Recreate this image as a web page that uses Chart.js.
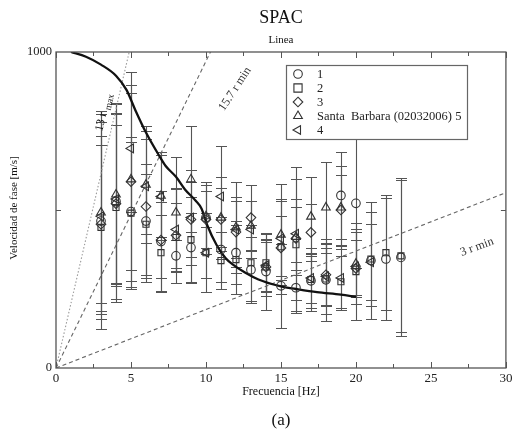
<!DOCTYPE html>
<html>
<head>
<meta charset="utf-8">
<script src="https://cdn.jsdelivr.net/npm/chart.js@4.4.0/dist/chart.umd.min.js"></script>
<style>
html, body { margin: 0; padding: 0; background: #fff; }
#wrap { position: relative; width: 512px; height: 433px; }
</style>
</head>
<body>
<div id="wrap"><canvas id="spacChart" width="512" height="433"></canvas></div>
<script>
// frequencies of the SPAC points [Hz]
const freqs = [3, 4, 5, 6, 7, 8, 9, 10, 11, 12, 13, 14, 15, 16, 17, 18, 19, 20, 21, 22, 23];

// phase velocity [m/s] for each station, and the +/- error bars
const vel1 = [465, 527, 495, 465, 400, 355, 381, 476, 375, 365, 311, 305, 260, 254, 276, 279, 546, 521, 340, 345, 350];
const err1 = [340, 310, 220, 180, 160, 50, 110, 114, 102, 100, 105, 121, 133, 80, 86, 130, 137, 206, 184, 193, 250];
const vel2 = [445, 508, 490, 455, 365, 413, 406, 365, 340, 343, 333, 333, 384, 390, 280, 282, 273, 305, 345, 365, 355];
const err2 = [290, 300, 240, 160, 120, 108, 136, 124, 90, 108, 120, 92, 150, 209, 100, 110, 83, 153, 150, 181, 240];
const vel3 = [455, 520, 590, 511, 405, 420, 470, 470, 470, 430, 476, 320, 380, 410, 429, 295, 500, 315, null, null, null];
const err3 = [250, 250, 280, 240, 120, 150, 120, 90, 100, 110, 102, 80, 100, 100, 90, 100, 110, 90, null, null, null];
const vel5 = [492, 549, 597, 580, 545, 492, 597, 480, 476, 445, 450, 318, 422, 415, 479, 508, 508, 330, null, null, null];
const err5 = [320, 290, 340, 185, 140, 175, 168, 100, 130, 145, 80, 90, 159, 120, 124, 143, 130, 100, null, null, null];
const vel4 = [480, 535, 695, 575, 543, 438, 476, 365, 543, 438, 438, 325, 410, 425, 285, 290, 285, 321, 335, null, null];
const err4 = [300, 270, 200, 150, 130, 130, 150, 80, 159, 90, 90, 80, 120, 210, 80, 90, 100, 120, 120, null, null];

// dispersion curve (solid line)
const curveF = [1, 2, 3, 4, 4.7, 5.3, 6, 6.9, 7.3, 8, 8.6, 9.3, 9.7, 10.1, 10.7, 11.3, 11.8, 12.6, 13.5, 15, 16, 17.4, 19, 20];
const curveV = [1000, 985, 960, 925, 880, 815, 745, 670, 640, 605, 565, 530, 505, 450, 390, 348, 327, 302, 280, 258, 250, 240, 232, 225];

// resolution limit lines: end points where they leave the frame
const limitLabels = ['13 r max', '15.7 r min', '3 r min'];
const limitEndF = [4.88, 10.3, 30];
const limitEndV = [1000, 1000, 555];

const seriesNames = ['1', '2', '3', 'Santa  Barbara (02032006) 5', '4'];

const SERIF = '"Liberation Serif", "DejaVu Serif", serif';

function pts(xs, ys) {
    const out = [];
    for (let i = 0; i < xs.length; i++) {
        if (ys[i] !== null) out.push({ x: xs[i], y: ys[i] });
    }
    return out;
}

// marker styles, order: 1, 2, 3, Santa Barbara 5, 4
const markers = [
    { style: 'circle', rot: 0, r: 4.3 },
    { style: 'rect', rot: 0, r: 4.3 },
    { style: 'rectRot', rot: 0, r: 4.8 },
    { style: 'triangle', rot: 0, r: 5 },
    { style: 'triangle', rot: 270, r: 5 }
];
const allVel = [vel1, vel2, vel3, vel5, vel4];
const allErr = [err1, err2, err3, err5, err4];

const datasets = [];
for (let s = 0; s < 5; s++) {
    datasets.push({
        label: seriesNames[s],
        data: pts(freqs, allVel[s]),
        errors: allErr[s].filter(e => e !== null),
        showLine: false,
        pointStyle: markers[s].style,
        rotation: markers[s].rot,
        pointRadius: markers[s].r,
        borderColor: '#333',
        borderWidth: 1.1,
        backgroundColor: 'rgba(0,0,0,0)'
    });
}
datasets.push({
    type: 'line',
    label: 'curve',
    data: pts(curveF, curveV),
    borderColor: '#111',
    borderWidth: 2.3,
    pointRadius: 0,
    cubicInterpolationMode: 'monotone'
});
const lineStyles = [
    { color: '#9a9a9a', dash: [1.5, 2] },
    { color: '#666', dash: [4, 3] },
    { color: '#666', dash: [4, 3] }
];
for (let i = 0; i < 3; i++) {
    datasets.push({
        type: 'line',
        label: limitLabels[i],
        data: [{ x: 0, y: 0 }, { x: limitEndF[i], y: limitEndV[i] }],
        borderColor: lineStyles[i].color,
        borderDash: lineStyles[i].dash,
        borderWidth: 1.1,
        pointRadius: 0
    });
}

function drawMarker(ctx, m, x, y) {
    const r = m.r;
    ctx.beginPath();
    if (m.style === 'circle') {
        ctx.arc(x, y, r, 0, Math.PI * 2);
    } else if (m.style === 'rect') {
        const h = r * 0.95;
        ctx.rect(x - h, y - h, 2 * h, 2 * h);
    } else if (m.style === 'rectRot') {
        ctx.moveTo(x, y - r); ctx.lineTo(x + r, y); ctx.lineTo(x, y + r); ctx.lineTo(x - r, y); ctx.closePath();
    } else if (m.rot === 0) {
        ctx.moveTo(x, y - r); ctx.lineTo(x + r * 0.87, y + r * 0.5); ctx.lineTo(x - r * 0.87, y + r * 0.5); ctx.closePath();
    } else {
        ctx.moveTo(x - r, y); ctx.lineTo(x + r * 0.5, y - r * 0.87); ctx.lineTo(x + r * 0.5, y + r * 0.87); ctx.closePath();
    }
    ctx.stroke();
}

const spacPlugin = {
    id: 'spac',
    beforeDatasetsDraw(chart) {
        const ctx = chart.ctx;
        const xs = chart.scales.x, ys = chart.scales.y;
        ctx.save();
        // error bars
        ctx.strokeStyle = '#555';
        ctx.lineWidth = 1.1;
        for (let s = 0; s < 5; s++) {
            const ds = chart.data.datasets[s];
            ds.data.forEach((p, i) => {
                const px = Math.round(xs.getPixelForValue(p.x)) + 0.5;
                const yt = Math.round(ys.getPixelForValue(p.y + ds.errors[i])) + 0.5;
                const yb = Math.round(ys.getPixelForValue(Math.max(0, p.y - ds.errors[i]))) + 0.5;
                ctx.beginPath();
                ctx.moveTo(px, yt); ctx.lineTo(px, yb);
                ctx.moveTo(px - 5.5, yt); ctx.lineTo(px + 5.5, yt);
                ctx.moveTo(px - 5.5, yb); ctx.lineTo(px + 5.5, yb);
                ctx.stroke();
            });
        }
        ctx.restore();
    },
    afterDatasetsDraw(chart) {
        const ctx = chart.ctx;
        const a = chart.chartArea;
        const xs = chart.scales.x, ys = chart.scales.y;
        ctx.save();
        // frame with inward ticks
        ctx.strokeStyle = '#555';
        ctx.lineWidth = 1.3;
        ctx.strokeRect(a.left, a.top, a.right - a.left, a.bottom - a.top);
        ctx.lineWidth = 1;
        for (let f = 0; f <= 30; f += 2.5) {
            const px = Math.round(xs.getPixelForValue(f)) + 0.5;
            const len = (f % 5 === 0) ? 6 : 4;
            ctx.beginPath();
            ctx.moveTo(px, a.bottom); ctx.lineTo(px, a.bottom - len);
            ctx.moveTo(px, a.top); ctx.lineTo(px, a.top + len);
            ctx.stroke();
        }
        const py = Math.round(ys.getPixelForValue(500)) + 0.5;
        ctx.beginPath();
        ctx.moveTo(a.left, py); ctx.lineTo(a.left + 5, py);
        ctx.moveTo(a.right, py); ctx.lineTo(a.right - 5, py);
        ctx.stroke();

        // legend
        const lx = 286, ly = 65, lw = 181, lh = 74;
        ctx.fillStyle = '#fff';
        ctx.fillRect(lx, ly, lw, lh);
        ctx.strokeStyle = '#666';
        ctx.lineWidth = 1.2;
        ctx.strokeRect(lx + 0.5, ly + 0.5, lw, lh);
        ctx.font = '12.5px ' + SERIF;
        ctx.textBaseline = 'middle';
        ctx.textAlign = 'left';
        ctx.lineWidth = 1.1;
        for (let s = 0; s < 5; s++) {
            const yy = ly + 9 + s * 14;
            ctx.strokeStyle = '#333';
            drawMarker(ctx, markers[s], lx + 12, yy);
            ctx.fillStyle = '#222';
            ctx.fillText(seriesNames[s], lx + 31, yy + 1);
        }

        // labels of the limit lines
        ctx.fillStyle = '#111';
        ctx.font = '12px ' + SERIF;
        ctx.save();
        ctx.translate(103, 114);
        ctx.rotate(-77 * Math.PI / 180);
        ctx.textAlign = 'center';
        ctx.fillText('13 r', -8, 0);
        ctx.font = '9.5px ' + SERIF;
        ctx.fillText('max', 13, 4);
        ctx.restore();
        ctx.fillStyle = '#333';
        ctx.save();
        ctx.translate(235, 89);
        ctx.rotate(-57 * Math.PI / 180);
        ctx.textAlign = 'center';
        ctx.fillText(limitLabels[1], 0, 0);
        ctx.restore();
        ctx.save();
        ctx.translate(477, 247);
        ctx.rotate(-20 * Math.PI / 180);
        ctx.textAlign = 'center';
        ctx.fillText(limitLabels[2], 0, 0);
        ctx.restore();

        // titles
        const cx = (a.left + a.right) / 2;
        ctx.textAlign = 'center';
        ctx.fillStyle = '#111';
        ctx.font = '18px ' + SERIF;
        ctx.fillText('SPAC', cx, 18);
        ctx.font = '11px ' + SERIF;
        ctx.fillText('Linea', cx, 40);
        ctx.font = '12px ' + SERIF;
        ctx.fillText('Frecuencia [Hz]', cx, 392);
        ctx.save();
        ctx.translate(14, 208);
        ctx.rotate(-Math.PI / 2);
        ctx.font = '11px ' + SERIF;
        ctx.fillText('Velocidad de fase [m/s]', 0, 0);
        ctx.restore();
        ctx.font = '17px ' + SERIF;
        ctx.fillText('(a)', cx, 421);
        ctx.restore();
    }
};

const spacChart = new Chart(document.getElementById('spacChart'), {
    type: 'scatter',
    data: { datasets: datasets },
    options: {
        responsive: false,
        animation: false,
        devicePixelRatio: 1,
        layout: { padding: { top: 52, right: 5, left: 0, bottom: 0 } },
        plugins: {
            legend: { display: false },
            tooltip: { enabled: false },
            title: { display: false }
        },
        scales: {
            x: {
                type: 'linear',
                min: 0,
                max: 30,
                grid: { display: false, drawTicks: false },
                border: { display: false },
                ticks: { stepSize: 5, padding: 3, color: '#222', font: { family: SERIF, size: 13 } },
                afterFit(s) { s.height = 65; s.paddingLeft = 0; s.paddingRight = 0; }
            },
            y: {
                min: 0,
                max: 1000,
                grid: { display: false, drawTicks: false },
                border: { display: false },
                ticks: {
                    stepSize: 500,
                    padding: 4,
                    color: '#222',
                    font: { family: SERIF, size: 12.5 },
                    callback: v => (v === 0 || v === 1000) ? v : ''
                },
                afterFit(s) { s.width = 56; s.paddingTop = 0; s.paddingBottom = 0; }
            }
        }
    },
    plugins: [spacPlugin]
});
</script>
</body>
</html>
